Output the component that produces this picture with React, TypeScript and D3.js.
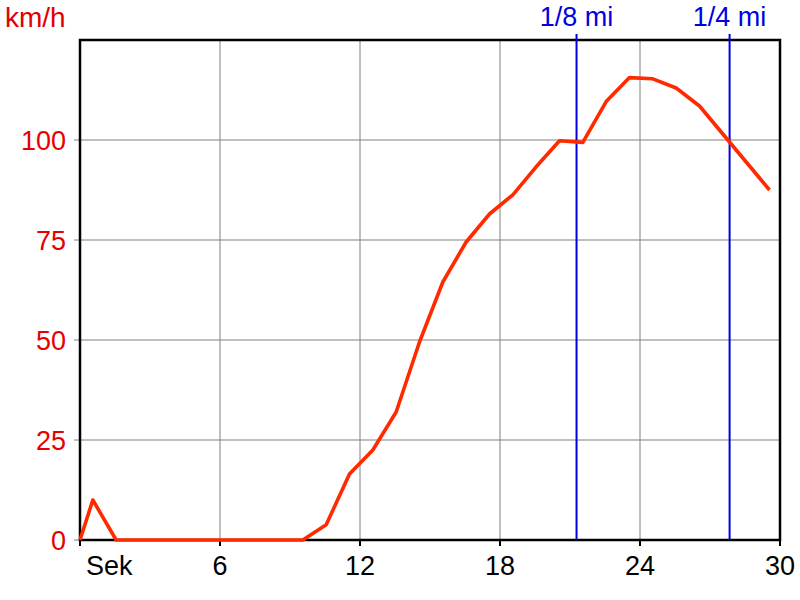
import React from "react";
import * as d3 from "d3";

const seconds = [0, 0.55, 1.55, 2.55, 3.55, 4.55, 5.55, 6.55, 7.55, 8.55, 9.55, 10.55, 11.55, 12.55, 13.55, 14.55, 15.55, 16.55, 17.55, 18.55, 19.55, 20.55, 21.55, 22.55, 23.55, 24.55, 25.55, 26.55, 27.55, 28.55, 29.55];
const speedKmh = [0, 10, 0, 0, 0, 0, 0, 0, 0, 0, 0, 3.8, 16.5, 22.5, 32, 49.5, 64.5, 74.5, 81.5, 86.3, 93.3, 99.8, 99.4, 109.6, 115.6, 115.3, 113, 108.5, 101.5, 94.5, 87.5];
const xTicks = [6, 12, 18, 24, 30];
const yTicks = [0, 25, 50, 75, 100];
const markers = [
  { label: "1/8 mi", t: 21.28 },
  { label: "1/4 mi", t: 27.84 },
];

const W = 800, H = 600;
const L = 80, R = 780, T = 40, B = 540;
const FONT = "Arial, 'Liberation Sans', sans-serif";

export default function App() {
  const x = d3.scaleLinear().domain([0, 30]).range([L, R]);
  const y = d3.scaleLinear().domain([0, 125]).range([B, T]);
  const line = d3
    .line<number>()
    .x((_, i) => x(seconds[i]))
    .y((d) => y(d));
  return (
    <svg
      width={W}
      height={H}
      style={{ position: "absolute", left: 0, top: 0, background: "#fff" }}
    >
      <rect x={0} y={0} width={W} height={H} fill="#fff" />
      {xTicks.slice(0, -1).map((t) => (
        <line key={"gx" + t} x1={x(t)} x2={x(t)} y1={T} y2={B} stroke="#808080" strokeWidth={1} />
      ))}
      {yTicks.slice(1).map((v) => (
        <line key={"gy" + v} x1={L} x2={R} y1={y(v)} y2={y(v)} stroke="#808080" strokeWidth={1} />
      ))}
      {/* ticks */}
      {[0, ...xTicks].map((t) => (
        <line key={"tx" + t} x1={x(t)} x2={x(t)} y1={B} y2={B + 6} stroke="#000" strokeWidth={2} />
      ))}
      {yTicks.map((v) => (
        <line key={"ty" + v} x1={L - 6} x2={L} y1={y(v)} y2={y(v)} stroke="#808080" strokeWidth={1} />
      ))}
      {/* frame */}
      <rect x={L} y={T} width={R - L} height={B - T} fill="none" stroke="#000" strokeWidth={2.5} />
      {/* markers */}
      {markers.map((m) => (
        <g key={m.label}>
          <line x1={x(m.t)} x2={x(m.t)} y1={T - 6} y2={B} stroke="#0000e0" strokeWidth={2} />
          <text x={x(m.t)} y={26} textAnchor="middle" fill="#0000e0" fontFamily={FONT} fontSize={27}>
            {m.label}
          </text>
        </g>
      ))}
      <path d={line(speedKmh) || ""} fill="none" stroke="#ff2a00" strokeWidth={3.6} strokeLinejoin="round" />
      {/* labels */}
      {yTicks.map((v) => (
        <text key={"ly" + v} x={66} y={y(v) + 9.5} textAnchor="end" fill="#e80000" fontFamily={FONT} fontSize={27}>
          {v}
        </text>
      ))}
      {xTicks.map((t) => (
        <text key={"lx" + t} x={x(t)} y={575} textAnchor="middle" fill="#000" fontFamily={FONT} fontSize={27}>
          {t}
        </text>
      ))}
      <text x={86} y={575} fill="#000" fontFamily={FONT} fontSize={27}>Sek</text>
      <text x={5} y={27} fill="#e00000" fontFamily={FONT} fontSize={28}>km/h</text>
    </svg>
  );
}
